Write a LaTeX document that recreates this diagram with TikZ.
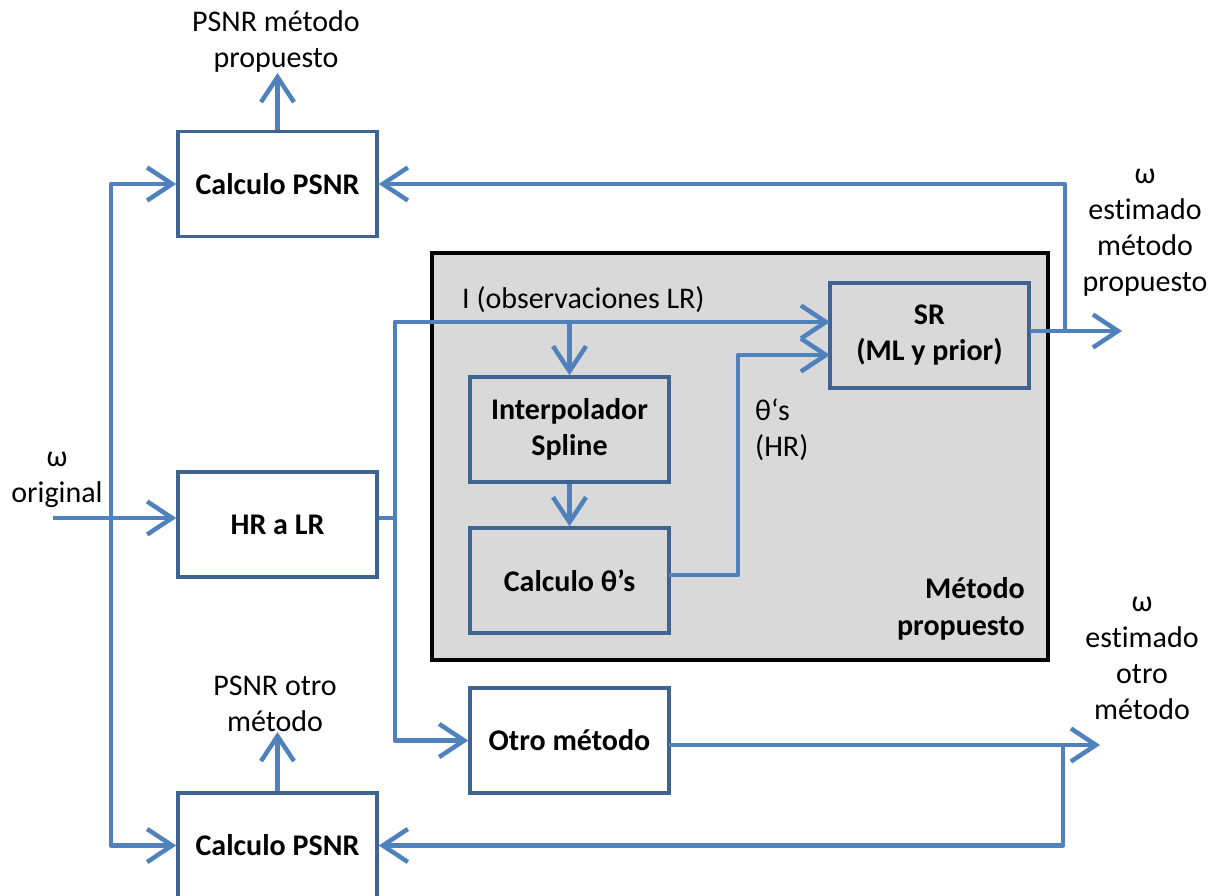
\documentclass[tikz,border=0pt]{standalone}
\usepackage{fontspec}
\setmainfont{Carlito}[Ligatures=NoCommon]
\usetikzlibrary{arrows.meta}
\definecolor{flow}{HTML}{4F81BD}
\definecolor{edge}{HTML}{3F6491}
\definecolor{panel}{HTML}{D9D9D9}

\begin{document}
\begin{tikzpicture}[x=1pt,y=-1pt,
  every node/.style={font=\fontsize{30}{36}\selectfont},
  block/.style={draw=edge, line width=3.5pt, fill=white, minimum width=199pt,
    minimum height=105pt, inner sep=0pt, align=center,
    font=\fontsize{30}{36}\selectfont\bfseries},
  lbl/.style={inner sep=0pt, align=center},
  flowline/.style={draw=flow, line width=4.5pt, line join=round},
  arr/.style={flowline, -{Straight Barb[length=25pt,width=33pt]}}]

\path[use as bounding box] (0,0) rectangle (1216,896);
\clip (0,0) rectangle (1216,896);

% grey panel of the proposed method
\node[draw=black, line width=4pt, fill=panel, minimum width=616pt,
  minimum height=407pt, inner sep=0pt] (panel) at (740,456.5) {};
\node[lbl, align=right, anchor=east, font=\fontsize{30}{37}\selectfont\bfseries]
  (panelname) at (1025,609) {Método\\propuesto};

% free labels
\node[lbl] (labA) at (276,42) {PSNR método\\propuesto};
\node[lbl] (labB) at (275,704) {PSNR otro\\método};
\node[lbl] (win) at (57,480) {ω\\original};
\node[lbl] (estAlab) at (1145,233) {ω\\estimado\\método\\propuesto};
\node[lbl] (estBlab) at (1142,658) {ω\\estimado\\otro\\método};
\node[lbl, anchor=west] (obslab) at (462,300) {I (observaciones LR)};
\node[lbl, anchor=west, align=left] (thlab) at (755,430) {θ‘s\\(HR)};

% junction points
\coordinate (in)    at (53,518);
\coordinate (busL)  at (111,518);
\coordinate (busM)  at (395,518);
\coordinate (obs)   at (395,322);
\coordinate (tap)   at (569.5,322);
\coordinate (srinA) at (830,322);
\coordinate (th)    at (738,575);
\coordinate (srinB) at (830,355);
\coordinate (srOut) at (1030,331);
\coordinate (tapA)  at (1065,331);
\coordinate (estA)  at (1122,331);
\coordinate (otOut) at (669,745);
\coordinate (tapB)  at (1063,745);
\coordinate (estB)  at (1100,745);
\coordinate (thOut) at (669,575);

% blocks
\node[block] (psnrA) at (277.5,184) {Calculo PSNR};
\node[block] (hrlr) at (277.5,524.5) {HR a LR};
\node[block] (psnrB) at (277.5,845.5) {Calculo PSNR};
\node[block, fill=panel] (interp) at (569.5,429.5) {Interpolador\\Spline};
\node[block, fill=panel] (theta) at (569.5,580.5) {Calculo θ’s};
\node[block, fill=panel] (sr) at (929.5,335.5) {SR\\(ML y prior)};
\node[block] (otro) at (569.5,740.5) {Otro método};

% connectors
\draw[arr] (in) -- (hrlr.west |- in);
\draw[arr] (busL) |- (psnrA.west);
\draw[arr] (busL) |- (psnrB.west);
\draw[flowline] (hrlr.east |- busM) -- (busM);
\draw[arr] (busM) -- (obs) -- (srinA);
\draw[arr] (busM) |- (otro.west);
\draw[arr] (tap) -- (interp.north);
\draw[arr] (interp.south) -- (theta.north);
\draw[arr] (thOut) -- (th) |- (srinB);
\draw[arr] (srOut) -- (estA);
\draw[arr] (tapA) |- (psnrA.east);
\draw[arr] (otOut) -- (estB);
\draw[arr] (tapB) |- (psnrB.east);
\draw[arr] (psnrA.north) -- (psnrA.north |- labA.south);
\draw[arr] (psnrB.north) -- (psnrB.north |- labB.south);
\end{tikzpicture}
\end{document}
